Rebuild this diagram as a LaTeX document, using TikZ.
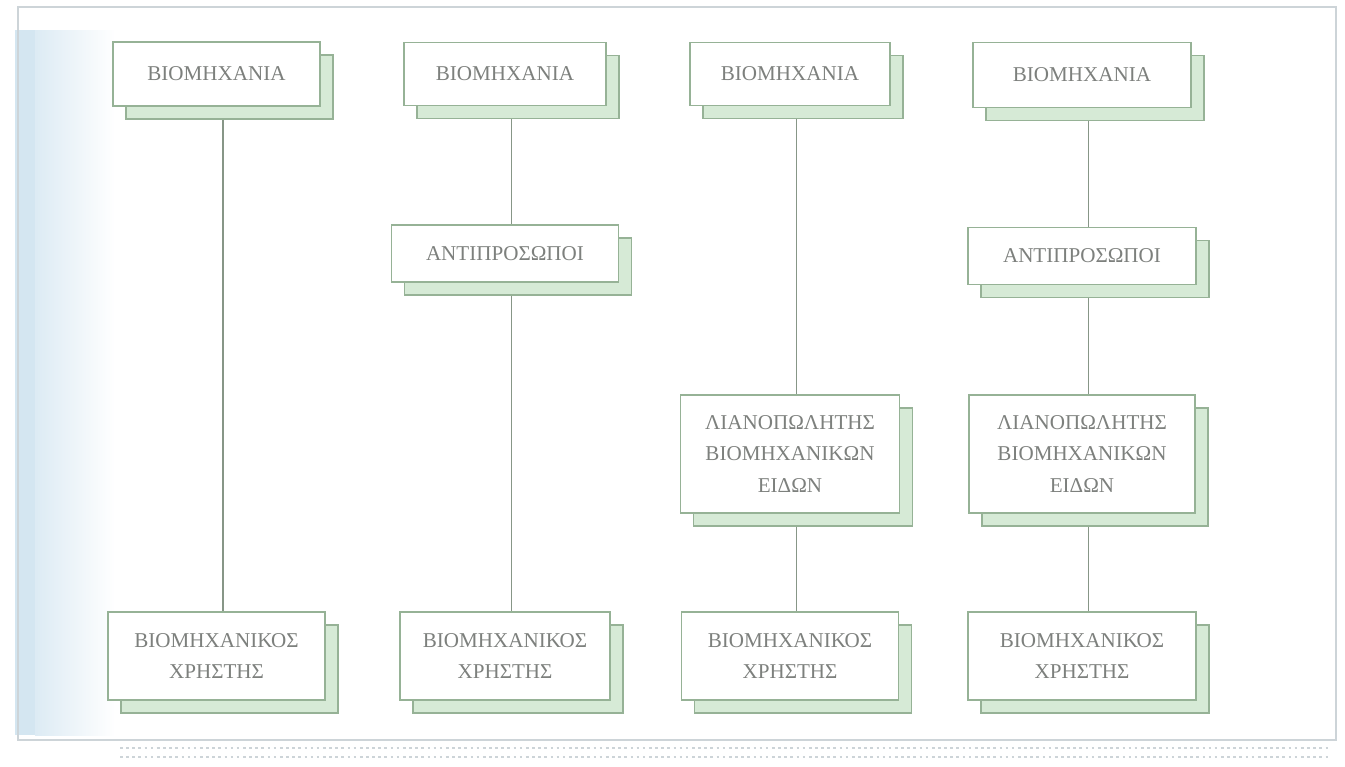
\documentclass[tikz,border=0pt]{standalone}
\usepackage{fontspec}
\setmainfont{Liberation Serif}
\usetikzlibrary{shadows}
\definecolor{boxline}{RGB}{150,178,150}
\definecolor{shadowfill}{RGB}{214,234,214}
\definecolor{linkgray}{RGB}{135,150,135}
\definecolor{textgray}{RGB}{125,128,125}
\definecolor{framegray}{RGB}{205,212,216}
\definecolor{stripblue}{RGB}{212,230,241}
\begin{document}
\begin{tikzpicture}[
  box/.style={draw=boxline, line width=0.9pt, fill=white, text=textgray, align=center,
    font=\fontsize{12}{18}\selectfont, inner sep=0pt,
    drop shadow={shadow xshift=0.26cm, shadow yshift=-0.26cm, opacity=1,
      fill=shadowfill, draw=boxline, line width=0.9pt}},
  link/.style={draw=linkgray, line width=0.8pt}]
\path[use as bounding box] (0,0) rectangle (26.9,-15.32);

% page edge of the scan
\fill[stripblue] (0.3,-0.6) rectangle (0.7,-14.7);
\shade[left color=stripblue!80, right color=white] (0.7,-0.6) rectangle (2.3,-14.7);
\draw[framegray, line width=0.8pt] (0.36,-0.14) rectangle (26.72,-14.8);
\draw[framegray, dotted, line width=1.5pt] (2.4,-14.96) -- (26.6,-14.96);
\draw[framegray, dotted, line width=1.5pt] (2.4,-15.14) -- (26.6,-15.14);

% first chain
\node[box, minimum width=4.14cm, minimum height=1.28cm] (1a) at (4.33,-1.48) {ΒΙΟΜΗΧΑΝΙΑ};
\node[box, minimum width=4.34cm, minimum height=1.76cm] (2a) at (4.33,-13.12) {ΒΙΟΜΗΧΑΝΙΚΟΣ\\ΧΡΗΣΤΗΣ};
\path[link] ([xshift=0.13cm,yshift=-0.26cm]1a.south) -- ([xshift=0.13cm]2a.north);

% second chain
\node[box, minimum width=4.04cm, minimum height=1.26cm] (1b) at (10.1,-1.48) {ΒΙΟΜΗΧΑΝΙΑ};
\node[box, minimum width=4.54cm, minimum height=1.14cm] (2b) at (10.1,-5.07) {ΑΝΤΙΠΡΟΣΩΠΟΙ};
\node[box, minimum width=4.2cm, minimum height=1.76cm] (3b) at (10.1,-13.12) {ΒΙΟΜΗΧΑΝΙΚΟΣ\\ΧΡΗΣΤΗΣ};
\path[link] ([xshift=0.13cm,yshift=-0.26cm]1b.south) -- ([xshift=0.13cm]2b.north);
\path[link] ([xshift=0.13cm,yshift=-0.26cm]2b.south) -- ([xshift=0.13cm]3b.north);

% third chain
\node[box, minimum width=4.0cm, minimum height=1.26cm] (1c) at (15.8,-1.48) {ΒΙΟΜΗΧΑΝΙΑ};
\node[box, minimum width=4.38cm, minimum height=2.36cm] (2c) at (15.8,-9.08) {ΛΙΑΝΟΠΩΛΗΤΗΣ\\ΒΙΟΜΗΧΑΝΙΚΩΝ\\ΕΙΔΩΝ};
\node[box, minimum width=4.34cm, minimum height=1.76cm] (3c) at (15.8,-13.12) {ΒΙΟΜΗΧΑΝΙΚΟΣ\\ΧΡΗΣΤΗΣ};
\path[link] ([xshift=0.13cm,yshift=-0.26cm]1c.south) -- ([xshift=0.13cm]2c.north);
\path[link] ([xshift=0.13cm,yshift=-0.26cm]2c.south) -- ([xshift=0.13cm]3c.north);

% fourth chain
\node[box, minimum width=4.36cm, minimum height=1.3cm] (1d) at (21.64,-1.5) {ΒΙΟΜΗΧΑΝΙΑ};
\node[box, minimum width=4.56cm, minimum height=1.14cm] (2d) at (21.64,-5.12) {ΑΝΤΙΠΡΟΣΩΠΟΙ};
\node[box, minimum width=4.52cm, minimum height=2.36cm] (3d) at (21.64,-9.08) {ΛΙΑΝΟΠΩΛΗΤΗΣ\\ΒΙΟΜΗΧΑΝΙΚΩΝ\\ΕΙΔΩΝ};
\node[box, minimum width=4.56cm, minimum height=1.76cm] (4d) at (21.64,-13.12) {ΒΙΟΜΗΧΑΝΙΚΟΣ\\ΧΡΗΣΤΗΣ};
\path[link] ([xshift=0.13cm,yshift=-0.26cm]1d.south) -- ([xshift=0.13cm]2d.north);
\path[link] ([xshift=0.13cm,yshift=-0.26cm]2d.south) -- ([xshift=0.13cm]3d.north);
\path[link] ([xshift=0.13cm,yshift=-0.26cm]3d.south) -- ([xshift=0.13cm]4d.north);
\end{tikzpicture}
\end{document}
